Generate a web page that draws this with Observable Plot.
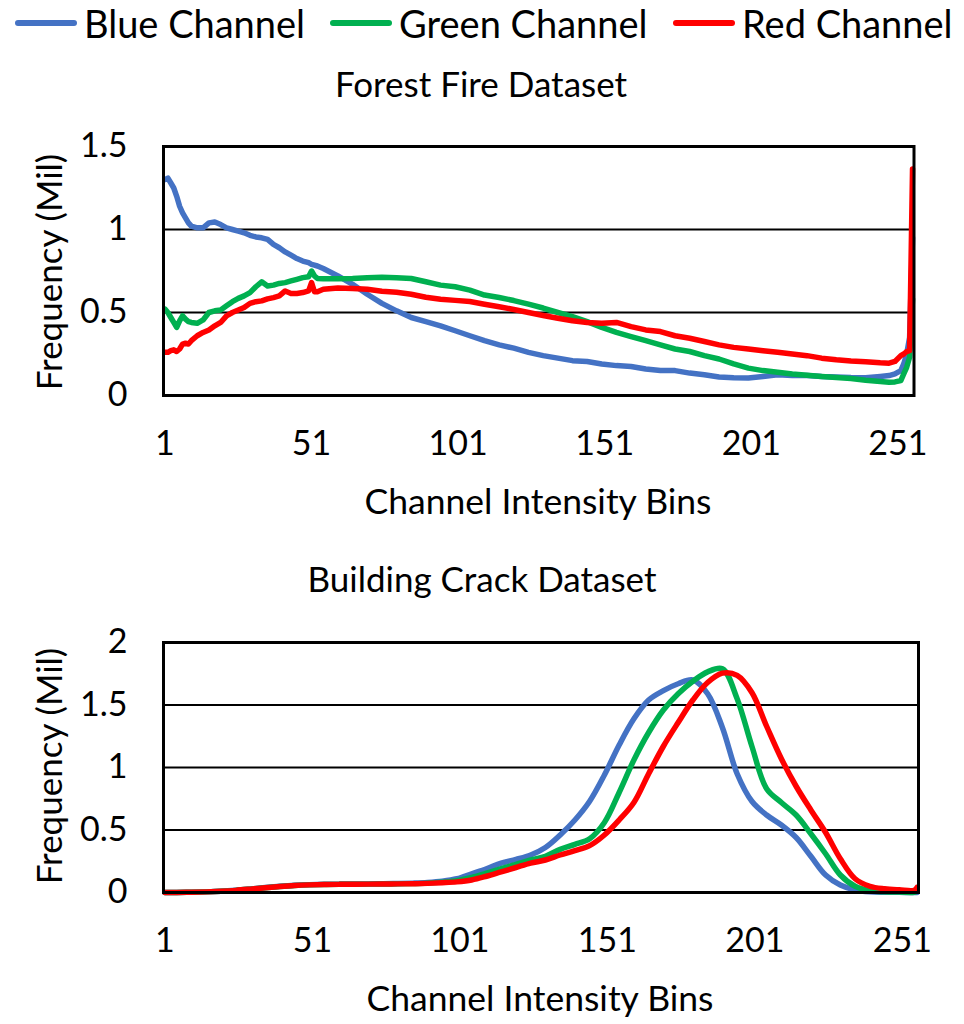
<!DOCTYPE html>
<html>
<head>
<meta charset="utf-8">
<script src="https://cdn.jsdelivr.net/npm/d3@7"></script>
<script src="https://cdn.jsdelivr.net/npm/@observablehq/plot@0.6"></script>
<style>
  html, body { margin: 0; padding: 0; background: #fff; }
  #root { position: relative; width: 964px; height: 1024px; overflow: hidden; font-family: Lato, sans-serif; font-weight: 400; color: #000; }
  .abs { position: absolute; white-space: nowrap; }
  .legend { top: 0; left: 0; width: 964px; height: 46px; }
  .litem { position: absolute; top: 0; display: flex; align-items: center; height: 46px; font-size: 38px; }
  .swatch { display: inline-block; width: 62px; height: 6px; border-radius: 3px; margin-right: 7px; }
  .title { font-size: 35px; transform: translate(-50%, -50%); }
  .ylabel { font-size: 35px; transform: translate(-50%, -50%) rotate(-90deg); }
  .xlabel { font-size: 35.5px; transform: translate(-50%, -50%); }
  .plotbox { position: absolute; left: 0; }
  .plotbox svg text { font-weight: 400; }
</style>
</head>
<body>
<div id="root"></div>
<script>
// ---------- data ----------
const channels = ["Blue Channel", "Green Channel", "Red Channel"];
const channelColors = ["#4472C4", "#00B050", "#FF0000"];

// Forest Fire Dataset (frequency in millions)
const fireBins = [1,2,3,4,5,6,7,8,9,10,12,14,16,18,20,22,24,26,28,30,32,34,36,38,40,42,44,46,48,50,51,52,53,55,60,65,70,75,80,85,90,95,100,105,110,115,120,125,130,135,140,145,150,155,160,165,170,175,180,185,190,195,200,205,210,215,220,225,230,235,240,245,248,250,252,253,254,255,256];
const fireBlue = [1.30,1.31,1.28,1.25,1.20,1.14,1.10,1.07,1.04,1.02,1.01,1.01,1.04,1.045,1.03,1.01,1.00,0.99,0.98,0.965,0.955,0.95,0.94,0.91,0.89,0.865,0.845,0.825,0.81,0.80,0.79,0.785,0.78,0.765,0.72,0.67,0.61,0.555,0.51,0.47,0.445,0.42,0.39,0.36,0.33,0.305,0.285,0.26,0.24,0.225,0.21,0.205,0.19,0.18,0.175,0.16,0.15,0.15,0.135,0.125,0.112,0.107,0.106,0.115,0.125,0.12,0.12,0.115,0.112,0.108,0.107,0.115,0.12,0.13,0.15,0.19,0.25,0.35,0.95];
const fireGreen = [0.52,0.50,0.47,0.44,0.41,0.45,0.48,0.46,0.445,0.44,0.435,0.455,0.50,0.51,0.515,0.54,0.565,0.585,0.60,0.62,0.655,0.685,0.66,0.665,0.675,0.68,0.69,0.70,0.71,0.715,0.75,0.72,0.705,0.703,0.703,0.705,0.71,0.712,0.71,0.705,0.685,0.665,0.655,0.635,0.605,0.59,0.572,0.55,0.527,0.50,0.475,0.445,0.41,0.38,0.355,0.33,0.305,0.28,0.265,0.24,0.22,0.19,0.165,0.15,0.14,0.13,0.122,0.115,0.108,0.102,0.092,0.085,0.08,0.082,0.09,0.13,0.17,0.23,0.58];
const fireRed = [0.26,0.26,0.27,0.275,0.265,0.28,0.31,0.315,0.31,0.33,0.36,0.38,0.395,0.42,0.44,0.48,0.50,0.515,0.53,0.555,0.565,0.57,0.582,0.59,0.60,0.63,0.615,0.615,0.62,0.63,0.68,0.625,0.625,0.64,0.648,0.645,0.64,0.628,0.622,0.61,0.592,0.58,0.573,0.566,0.55,0.535,0.518,0.50,0.482,0.465,0.45,0.44,0.435,0.44,0.415,0.395,0.385,0.36,0.345,0.325,0.305,0.29,0.28,0.27,0.26,0.25,0.24,0.225,0.215,0.208,0.203,0.197,0.195,0.205,0.24,0.25,0.265,0.27,1.365];

// Building Crack Dataset (frequency in millions)
const crackBins = [1,5,10,15,20,25,30,35,40,45,50,55,60,65,70,75,80,85,90,95,100,105,110,115,120,125,130,135,140,145,150,155,160,165,170,175,180,185,190,195,200,205,210,215,220,225,230,235,240,245,250,255,256];
const crackBlue = [0,0,0.002,0.005,0.01,0.018,0.028,0.04,0.05,0.058,0.063,0.066,0.067,0.068,0.069,0.07,0.072,0.075,0.08,0.09,0.11,0.15,0.19,0.235,0.265,0.30,0.36,0.46,0.58,0.73,0.94,1.18,1.39,1.54,1.615,1.67,1.70,1.59,1.32,0.95,0.73,0.62,0.54,0.44,0.29,0.14,0.06,0.02,0.005,0.002,0.001,0,0];
const crackGreen = [0,0,0.002,0.005,0.01,0.017,0.027,0.038,0.048,0.056,0.061,0.064,0.065,0.066,0.067,0.068,0.069,0.071,0.075,0.083,0.095,0.12,0.155,0.19,0.225,0.26,0.29,0.345,0.385,0.43,0.56,0.80,1.06,1.28,1.46,1.59,1.69,1.765,1.79,1.55,1.17,0.83,0.72,0.62,0.47,0.31,0.14,0.05,0.015,0.005,0.003,0.002,0.01];
const crackRed = [0,0,0.002,0.005,0.01,0.017,0.027,0.038,0.048,0.056,0.061,0.064,0.065,0.066,0.067,0.068,0.069,0.07,0.073,0.078,0.085,0.10,0.13,0.165,0.20,0.235,0.26,0.30,0.335,0.375,0.46,0.58,0.72,0.95,1.17,1.36,1.54,1.68,1.755,1.737,1.60,1.33,1.07,0.85,0.66,0.48,0.27,0.11,0.05,0.03,0.022,0.018,0.04];

const xTicks = [1, 51, 101, 151, 201, 251];
const fireYTicks = [0, 0.5, 1, 1.5];
const crackYTicks = [0, 0.5, 1, 1.5, 2];

function toLong(bins, series) {
  const out = [];
  series.forEach((vals, i) => {
    bins.forEach((b, j) => out.push({bin: b, value: vals[j], channel: channels[i]}));
  });
  return out;
}

const root = document.getElementById("root");
function addDiv(cls, text, left, top) {
  const d = document.createElement("div");
  d.className = "abs " + cls;
  d.textContent = text;
  d.style.left = left + "px";
  d.style.top = top + "px";
  root.appendChild(d);
  return d;
}

// ---------- legend ----------
const legend = document.createElement("div");
legend.className = "abs legend";
const legendLeft = [15, 330, 673];
channels.forEach((c, i) => {
  const item = document.createElement("div");
  item.className = "litem";
  item.style.left = legendLeft[i] + "px";
  item.style.top = "0px";
  const sw = document.createElement("span");
  sw.className = "swatch";
  sw.style.background = channelColors[i];
  item.appendChild(sw);
  const t = document.createElement("span");
  t.textContent = c;
  item.appendChild(t);
  legend.appendChild(item);
});
root.appendChild(legend);

// ---------- panels ----------
function panel({bins, series, yDomain, yTicks, top, height, marginTop, marginBottom, marginRight, curve}) {
  const data = toLong(bins, series);
  const chart = Plot.plot({
    width: 964,
    height,
    marginLeft: 163,
    marginRight,
    marginTop,
    marginBottom,
    style: {fontFamily: "Lato, sans-serif", fontSize: "34px", color: "#000", background: "transparent", overflow: "visible"},
    x: {domain: [0.5, 256.5], ticks: xTicks, tickFormat: d => String(d), tickSize: 0, tickPadding: 35, label: null},
    y: {domain: yDomain, ticks: yTicks, tickFormat: d => String(d), tickSize: 0, tickPadding: 36, label: null},
    color: {domain: channels, range: channelColors},
    marks: [
      Plot.ruleY(yTicks.filter(v => v > yDomain[0] && v < yDomain[1]), {stroke: "#000", strokeWidth: 2}),
      Plot.line(data, {x: "bin", y: "value", z: "channel", stroke: "channel", strokeWidth: 5.5, curve, strokeLinejoin: "round", strokeLinecap: "round"}),
      Plot.frame({stroke: "#000", strokeWidth: 3})
    ]
  });
  const box = document.createElement("div");
  box.className = "plotbox";
  box.style.top = top + "px";
  box.appendChild(chart);
  root.appendChild(box);
}

panel({bins: fireBins, series: [fireBlue, fireGreen, fireRed], yDomain: [0, 1.5], yTicks: fireYTicks,
       top: 110, height: 420, marginTop: 36, marginBottom: 135, marginRight: 50.5, curve: "linear"});
panel({bins: crackBins, series: [crackBlue, crackGreen, crackRed], yDomain: [0, 2], yTicks: crackYTicks,
       top: 600, height: 424, marginTop: 42, marginBottom: 132, marginRight: 46, curve: "catmull-rom"});

// ---------- titles & axis labels ----------
addDiv("title", "Forest Fire Dataset", 481, 83);
addDiv("ylabel", "Frequency (Mil)", 48, 272);
addDiv("xlabel", "Channel Intensity Bins", 538, 500);
addDiv("title", "Building Crack Dataset", 482, 578);
addDiv("ylabel", "Frequency (Mil)", 48, 766);
addDiv("xlabel", "Channel Intensity Bins", 540, 997);
</script>
</body>
</html>
